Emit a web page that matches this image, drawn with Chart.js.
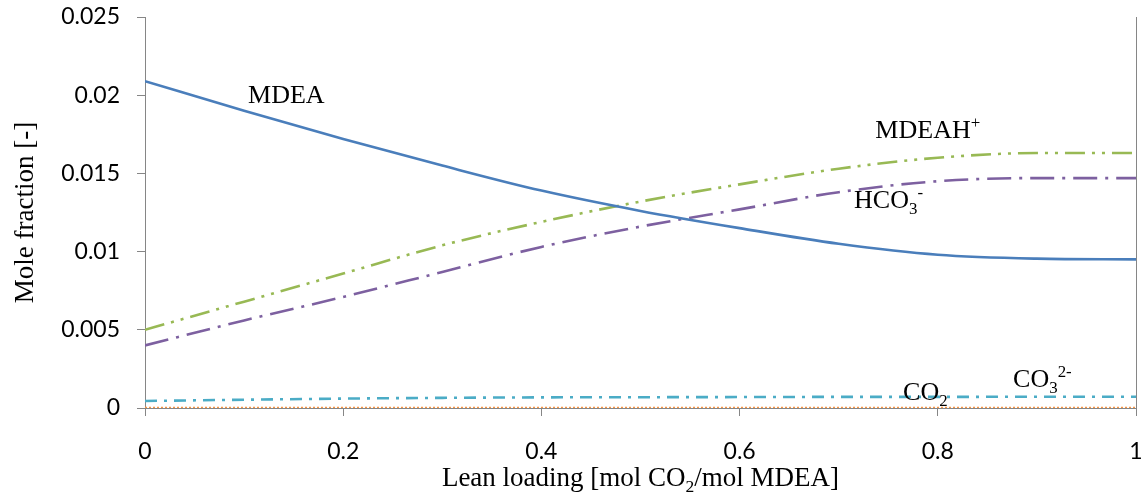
<!DOCTYPE html>
<html>
<head>
<meta charset="utf-8">
<script src="https://cdn.jsdelivr.net/npm/chart.js@4.4.1/dist/chart.umd.min.js"></script>
<style>
  html, body { margin: 0; padding: 0; background: #fff; }
  #wrap { width: 1144px; height: 493px; position: relative; }
</style>
</head>
<body>
<div id="wrap"><canvas id="chart"></canvas></div>
<script>
// Lean loading (x) and mole fractions
const loading = [0, 0.1, 0.2, 0.3, 0.4, 0.5, 0.6, 0.7, 0.8, 0.9, 1];
const mdea    = [0.0209, 0.0190, 0.0172, 0.0155, 0.0139, 0.0126, 0.0115, 0.0105, 0.0098, 0.00955, 0.0095];
const mdeah   = [0.0050, 0.0068, 0.0086, 0.0104, 0.0119, 0.0132, 0.0143, 0.0153, 0.0160, 0.0163, 0.0163];
const hco3    = [0.0040, 0.0056, 0.0071, 0.0087, 0.0103, 0.0116, 0.0127, 0.0138, 0.0145, 0.0147, 0.0147];
const co3     = [0.00045, 0.00053, 0.00060, 0.00065, 0.00068, 0.00069, 0.00070, 0.00071, 0.00071, 0.00072, 0.00072];
const co2     = [0.00002, 0.00002, 0.00002, 0.00002, 0.00002, 0.00002, 0.00002, 0.00002, 0.00002, 0.00002, 0.00002];

const xTickValues = [0, 0.2, 0.4, 0.6, 0.8, 1];
const xTickLabels = ['0', '0.2', '0.4', '0.6', '0.8', '1'];
const yTickValues = [0, 0.005, 0.01, 0.015, 0.02, 0.025];
const yTickLabels = ['0', '0.005', '0.01', '0.015', '0.02', '0.025'];

// in-plot series labels: [text, shift] where shift -1 = subscript, 1 = superscript
const curveLabels = [
  { parts: [['MDEA', 0]], x: 0.104, y: 0.0195 },
  { parts: [['MDEAH', 0], ['+', 1]], x: 0.737, y: 0.01726 },
  { parts: [['HCO', 0], ['3', -1], ['-', 1]], x: 0.7155, y: 0.01279 },
  { parts: [['CO', 0], ['2', -1]], x: 0.765, y: 0.00051 },
  { parts: [['CO', 0], ['3', -1], ['2-', 1]], x: 0.876, y: 0.00134 }
];
const xTitle = [['Lean loading [mol CO', 0], ['2', -1], ['/mol MDEA]', 0]];
const yTitle = [['Mole fraction [-]', 0]];

const axisGray = '#868686';
const serif = '"Liberation Serif", "Times New Roman", serif';

function richWidth(ctx, parts, size) {
  let w = 0;
  parts.forEach(([t, s]) => {
    ctx.font = (s ? size * 0.65 : size) + 'px ' + serif;
    w += ctx.measureText(t).width;
  });
  return w;
}

function drawRich(ctx, parts, x, y, size) {
  let cx = x;
  parts.forEach(([t, s]) => {
    const fs = s ? size * 0.65 : size;
    ctx.font = fs + 'px ' + serif;
    const dy = s === 1 ? -size * 0.38 : (s === -1 ? size * 0.22 : 0);
    ctx.fillText(t, cx, y + dy);
    cx += ctx.measureText(t).width;
  });
}

const textPlugin = {
  id: 'textPlugin',
  afterDraw(chart) {
    const ctx = chart.ctx;
    const xs = chart.scales.x, ys = chart.scales.y;
    const area = chart.chartArea;
    ctx.save();
    ctx.fillStyle = '#000';
    ctx.textAlign = 'left';
    ctx.textBaseline = 'alphabetic';
    curveLabels.forEach(l => {
      drawRich(ctx, l.parts, xs.getPixelForValue(l.x), ys.getPixelForValue(l.y), 26);
    });
    // x axis title
    const xw = richWidth(ctx, xTitle, 27);
    drawRich(ctx, xTitle, (area.left + area.right) / 2 - xw / 2, 486, 27);
    // y axis title
    ctx.translate(33, (area.top + area.bottom) / 2);
    ctx.rotate(-Math.PI / 2);
    const yw = richWidth(ctx, yTitle, 27);
    drawRich(ctx, yTitle, -yw / 2, 0, 27);
    ctx.restore();
  }
};

function line(label, data, color, dash, width) {
  return {
    label: label,
    data: loading.map((x, i) => ({ x: x, y: data[i] })),
    borderColor: color,
    borderWidth: width || 2.6,
    borderDash: dash,
    pointRadius: 0,
    fill: false,
    cubicInterpolationMode: 'monotone'
  };
}

new Chart(document.getElementById('chart'), {
  type: 'line',
  data: {
    datasets: [
      line('MDEA', mdea, '#4A7EBB', []),
      line('MDEAH+', mdeah, '#98B954', [20, 7, 3, 7, 3, 7]),
      line('HCO3-', hco3, '#7D60A0', [24, 8, 3, 8]),
      line('CO3 2-', co3, '#4BACC6', [12, 7, 3, 7]),
      line('CO2', co2, '#F79646', [2, 2], 2)
    ]
  },
  options: {
    responsive: true,
    maintainAspectRatio: false,
    animation: false,
    layout: { padding: { top: 17, right: 8, left: 0, bottom: 0 } },
    plugins: { legend: { display: false }, tooltip: { enabled: false } },
    scales: {
      x: {
        type: 'linear',
        min: 0,
        max: 1,
        afterBuildTicks: s => { s.ticks = xTickValues.map(v => ({ value: v })); },
        afterFit: s => { s.height = 85; s.paddingLeft = 0; s.paddingRight = 0; },
        ticks: {
          callback: (v, i) => xTickLabels[i],
          font: { family: 'Lato', size: 23 },
          color: '#000',
          padding: 22,
          maxRotation: 0
        },
        grid: { drawOnChartArea: false, drawTicks: true, tickLength: 8, color: axisGray },
        border: { color: axisGray, width: 1 }
      },
      y: {
        min: 0,
        max: 0.025,
        afterBuildTicks: s => { s.ticks = yTickValues.map(v => ({ value: v })); },
        afterFit: s => { s.width = 145; s.paddingTop = 0; s.paddingBottom = 0; },
        ticks: {
          callback: (v, i) => yTickLabels[i],
          font: { family: 'Lato', size: 23 },
          color: '#000',
          padding: 17
        },
        grid: { drawOnChartArea: false, drawTicks: true, tickLength: 8, color: axisGray },
        border: { color: axisGray, width: 1 }
      },
      y2: {
        position: 'right',
        min: 0,
        max: 0.025,
        afterFit: s => { s.width = 0; s.paddingTop = 0; s.paddingBottom = 0; },
        ticks: { display: false },
        grid: { drawOnChartArea: false, drawTicks: false },
        border: { color: axisGray, width: 1 }
      }
    }
  },
  plugins: [textPlugin]
});
</script>
</body>
</html>
